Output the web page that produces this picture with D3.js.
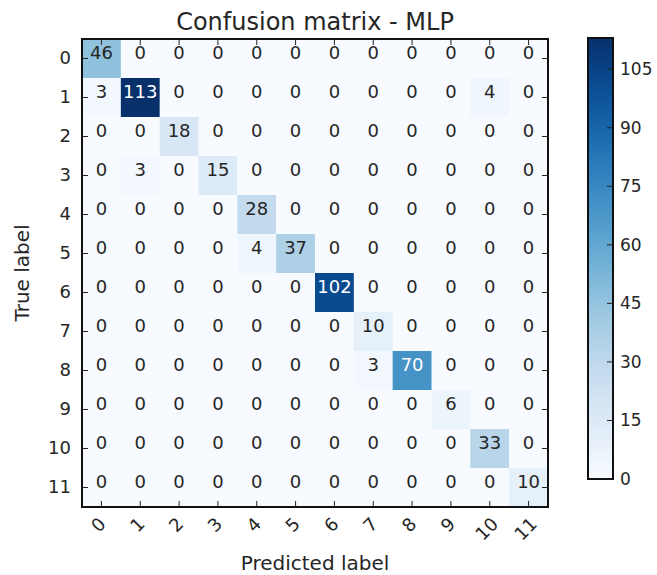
<!DOCTYPE html>
<html>
<head>
<meta charset="utf-8">
<style>
  body{margin:0;background:#fff;}
  svg text{font-family:"DejaVu Sans",sans-serif;fill:#262626;}
</style>
<script src="https://cdn.jsdelivr.net/npm/d3@7"></script>
</head>
<body>
<svg id="chart" width="657" height="575"></svg>
<script>
var classes = ["0","1","2","3","4","5","6","7","8","9","10","11"];
var matrix = [
  [46,0,0,0,0,0,0,0,0,0,0,0],
  [3,113,0,0,0,0,0,0,0,0,4,0],
  [0,0,18,0,0,0,0,0,0,0,0,0],
  [0,3,0,15,0,0,0,0,0,0,0,0],
  [0,0,0,0,28,0,0,0,0,0,0,0],
  [0,0,0,0,4,37,0,0,0,0,0,0],
  [0,0,0,0,0,0,102,0,0,0,0,0],
  [0,0,0,0,0,0,0,10,0,0,0,0],
  [0,0,0,0,0,0,0,3,70,0,0,0],
  [0,0,0,0,0,0,0,0,0,6,0,0],
  [0,0,0,0,0,0,0,0,0,0,33,0],
  [0,0,0,0,0,0,0,0,0,0,0,10]
];
var cbarTicks = [0,15,30,45,60,75,90,105];
var titleText = "Confusion matrix - MLP";

var svg = d3.select("#chart");
var pL = 82, pR = 548, pT = 39, pB = 507;
var fs = 18;
var vmax = d3.max(matrix, function(r){ return d3.max(r); });
var color = d3.scaleSequential(d3.interpolateBlues).domain([0, vmax]);

var x = d3.scaleBand().domain(classes).range([pL, pR]);
var y = d3.scaleBand().domain(classes).range([pT, pB]);

// cells
var cells = [];
matrix.forEach(function(row, i){
  row.forEach(function(v, j){ cells.push({r:classes[i], c:classes[j], v:v}); });
});
svg.append("g").selectAll("rect").data(cells).enter().append("rect")
  .attr("x", function(d){ return x(d.c); })
  .attr("y", function(d){ return y(d.r); })
  .attr("width", x.bandwidth() + 0.5)
  .attr("height", y.bandwidth() + 0.5)
  .attr("fill", function(d){ return color(d.v); });

// matplotlib puts the baseline at the cell centre
svg.append("g").selectAll("text").data(cells).enter().append("text")
  .attr("x", function(d){ return x(d.c) + x.bandwidth()/2; })
  .attr("y", function(d){ return y(d.r) + y.bandwidth()/2; })
  .attr("text-anchor", "middle")
  .style("font-size", fs + "px")
  .style("fill", function(d){ return d.v > vmax/2 ? "#fff" : "#262626"; })
  .text(function(d){ return d.v; });

// ticks on all four sides, pointing inward
var tk = svg.append("g").attr("stroke", "#222").attr("stroke-width", 1);
classes.forEach(function(c){
  var cx = x(c) + x.bandwidth()/2, cy = y(c) + y.bandwidth()/2;
  tk.append("line").attr("x1", cx).attr("x2", cx).attr("y1", pB).attr("y2", pB-6);
  tk.append("line").attr("x1", cx).attr("x2", cx).attr("y1", pT).attr("y2", pT+6);
  tk.append("line").attr("y1", cy).attr("y2", cy).attr("x1", pL).attr("x2", pL+6);
  tk.append("line").attr("y1", cy).attr("y2", cy).attr("x1", pR).attr("x2", pR-6);
});
svg.append("rect").attr("x", pL).attr("y", pT)
  .attr("width", pR-pL).attr("height", pB-pT)
  .attr("fill", "none").attr("stroke", "#111").attr("stroke-width", 2);

// tick labels
svg.append("g").selectAll("text").data(classes).enter().append("text")
  .attr("x", pL - 11)
  .attr("y", function(d){ return y(d) + y.bandwidth()/2 - 1; })
  .attr("dy", "0.35em")
  .attr("text-anchor", "end")
  .style("font-size", fs + "px")
  .text(function(d){ return d; });

svg.append("g").selectAll("text").data(classes).enter().append("text")
  .attr("text-anchor", "middle")
  .attr("dy", "0.35em")
  .style("font-size", fs + "px")
  .text(function(d){ return d; })
  .attr("transform", function(d){
    var w = this.getComputedTextLength(), h = fs * 0.75;
    var cy = 516 + (w + h) / (2 * Math.SQRT2);
    return "translate(" + (x(d) + x.bandwidth()/2 - 3) + "," + cy + ") rotate(-45)";
  });

svg.append("text").attr("x", (pL+pR)/2).attr("y", 30)
  .attr("text-anchor", "middle").style("font-size", "24px").text(titleText);
svg.append("text").attr("x", (pL+pR)/2).attr("y", 570)
  .attr("text-anchor", "middle").style("font-size", "20px").text("Predicted label");
svg.append("text").attr("transform", "translate(29," + ((pT+pB)/2) + ") rotate(-90)")
  .attr("text-anchor", "middle").style("font-size", "20px").text("True label");

// colorbar
var cbL = 588, cbW = 25, cbT = 38, cbB = 479;
var cy2 = d3.scaleLinear().domain([0, vmax]).range([cbB, cbT]);
var grad = svg.append("defs").append("linearGradient").attr("id", "cb")
  .attr("x1", 0).attr("y1", 1).attr("x2", 0).attr("y2", 0);
d3.range(0, 1.0001, 0.05).forEach(function(t){
  grad.append("stop").attr("offset", t).attr("stop-color", color(t*vmax));
});
svg.append("rect").attr("x", cbL).attr("y", cbT).attr("width", cbW).attr("height", cbB-cbT)
  .attr("fill", "url(#cb)").attr("stroke", "#111").attr("stroke-width", 2);
var cbAxis = svg.append("g");
cbarTicks.forEach(function(t){
  cbAxis.append("line").attr("x1", cbL+cbW).attr("x2", cbL+cbW-6)
    .attr("y1", cy2(t)).attr("y2", cy2(t)).attr("stroke", "#222");
  cbAxis.append("text").attr("x", cbL+cbW+7).attr("y", cy2(t)).attr("dy", "0.35em")
    .style("font-size", "17px").text(t);
});
</script>
</body>
</html>
